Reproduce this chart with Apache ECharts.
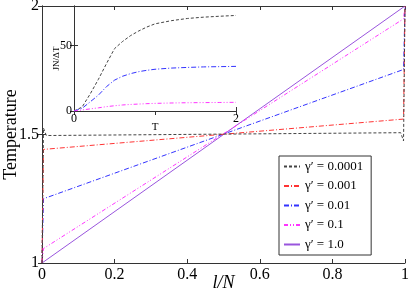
<!DOCTYPE html>
<html><head><meta charset="utf-8">
<script src="https://cdn.jsdelivr.net/npm/echarts@6/dist/echarts.min.js"></script>
<style>html,body{margin:0;padding:0;background:#fff}#c{width:409px;height:294px}</style>
</head><body><div id="c"></div>
<script>
// Main plot: temperature profiles along the chain
const seriesNames = ['γ′ = 0.0001', 'γ′ = 0.001', 'γ′ = 0.01', 'γ′ = 0.1', 'γ′ = 1.0'];
const xG0001 = [0, 0.004, 0.012, 0.988, 0.996, 1];
const yG0001 = [1, 1.525, 1.496, 1.507, 1.475, 2];
const xG001 = [0, 0.004, 0.996, 1];
const yG001 = [1, 1.442, 1.56, 2];
const xG01 = [0, 0.004, 0.996, 1];
const yG01 = [1, 1.25, 1.753, 2];
const xG1 = [0, 0.004, 0.996, 1];
const yG1 = [1, 1.056, 1.95, 2];
const xG10 = [0, 1];
const yG10 = [1, 2];
// Inset: JN/ΔT vs T
const insetT = [0, 0.1, 0.2, 0.3, 0.4, 0.5, 0.6, 0.7, 0.8, 0.9, 1.0, 1.2, 1.4, 1.6, 1.8, 2.0];
const insetG0001 = [0, 3, 13, 24, 36, 47.5, 53, 57.5, 61, 64, 66.4, 68.8, 70.5, 71.5, 72.2, 72.8];
const insetG01 = [0, 2, 7, 12, 18.5, 23.5, 26.5, 28.5, 30, 31, 31.8, 32.7, 33.2, 33.6, 33.8, 34];
const insetG1 = [0, 0.8, 1.6, 2.4, 3.3, 4, 4.6, 5, 5.3, 5.6, 5.8, 6.1, 6.3, 6.4, 6.5, 6.6];
const mainXTicks = [0, 0.2, 0.4, 0.6, 0.8, 1];
const mainYTicks = [1, 1.5, 2];

const zip = (xs, ys) => xs.map((x, i) => [x, ys[i]]);
const F = 'Liberation Serif';
const axisCol = '#333';
const styles = [
  {color: '#444', type: [3, 2]},
  {color: '#ff3333', type: [5, 2, 1, 2]},
  {color: '#3333ff', type: [5, 2, 1, 2]},
  {color: '#ff33ff', type: [4, 2, 1, 2, 1, 2]},
  {color: '#9955dd', type: 'solid'}
];
const mainData = [zip(xG0001, yG0001), zip(xG001, yG001), zip(xG01, yG01), zip(xG1, yG1), zip(xG10, yG10)];

const chart = echarts.init(document.getElementById('c'), null, {renderer: 'canvas'});
const baseAxis = {
  axisLine: {show: true, lineStyle: {color: axisCol, width: 1}},
  axisTick: {show: true, inside: true, length: 4, lineStyle: {color: axisCol}},
  splitLine: {show: false},
  nameMoveOverlap: false
};
const series = [];
mainData.forEach((d, i) => {
  series.push({
    name: seriesNames[i], type: 'line', xAxisIndex: 0, yAxisIndex: 0, data: d,
    symbol: 'none', animation: false,
    lineStyle: {color: styles[i].color, type: styles[i].type, width: 1},
    itemStyle: {color: styles[i].color}, z: 5 - i
  });
});
[[insetG0001, 0], [insetG01, 2], [insetG1, 3]].forEach(([arr, si], k) => {
  series.push({
    name: 'inset' + k, type: 'line', xAxisIndex: 2, yAxisIndex: 2, data: zip(insetT, arr),
    symbol: 'none', animation: false,
    lineStyle: {color: styles[si].color, type: styles[si].type, width: 1}
  });
});

chart.setOption({
  animation: false,
  backgroundColor: '#fff',
  grid: [
    {left: 42, right: 4, top: 6, bottom: 31, containLabel: false, outerBoundsMode: 'none'},
    {left: 74, right: 173, top: 6, bottom: 183, containLabel: false, outerBoundsMode: 'none'}
  ],
  xAxis: [
    Object.assign({}, baseAxis, {type: 'value', gridIndex: 0, min: 0, max: 1, interval: 0.2, position: 'bottom',
      name: 'l/N', nameLocation: 'middle', nameGap: 11,
      nameTextStyle: {fontFamily: F, fontSize: 18, fontStyle: 'italic', color: '#000'},
      axisLabel: {fontFamily: F, fontSize: 16, color: '#000', margin: 4, formatter: v => String(+v.toFixed(1))}}),
    Object.assign({}, baseAxis, {type: 'value', gridIndex: 0, min: 0, max: 1, interval: 0.2, position: 'top',
      axisLabel: {show: false}}),
    Object.assign({}, baseAxis, {type: 'value', gridIndex: 1, min: 0, max: 2, interval: 2, position: 'bottom',
      name: 'T', nameLocation: 'middle', nameGap: 11,
      nameTextStyle: {fontFamily: F, fontSize: 11, color: '#000'},
      axisLabel: {fontFamily: F, fontSize: 12, color: '#000', margin: 2}}),
    Object.assign({}, baseAxis, {type: 'value', gridIndex: 1, min: 0, max: 2, interval: 1, position: 'top',
      axisLabel: {show: false}})
  ],
  yAxis: [
    Object.assign({}, baseAxis, {type: 'value', gridIndex: 0, min: 1, max: 2, interval: 0.5, position: 'left',
      name: 'Temperature', nameLocation: 'middle', nameGap: 22,
      nameTextStyle: {fontFamily: F, fontSize: 18, color: '#000'},
      axisLabel: {fontFamily: F, fontSize: 16, color: '#000', margin: 3}}),
    Object.assign({}, baseAxis, {type: 'value', gridIndex: 0, min: 1, max: 2, interval: 0.5, position: 'right',
      axisLabel: {show: false}}),
    Object.assign({}, baseAxis, {type: 'value', gridIndex: 1, min: 0, max: 80, interval: 50, position: 'left',
      name: 'JN/ΔT', nameLocation: 'middle', nameGap: 13,
      nameTextStyle: {fontFamily: F, fontSize: 9, color: '#000'},
      axisLabel: {fontFamily: F, fontSize: 12, color: '#000', margin: 2, formatter: v => (v % 50 === 0 ? String(v) : '')}}),
    Object.assign({}, baseAxis, {type: 'value', gridIndex: 1, min: 0, max: 80, interval: 50, position: 'right',
      axisLabel: {show: false}})
  ],
  legend: {
    data: seriesNames, orient: 'vertical', left: 279, top: 156,
    backgroundColor: '#fff', borderColor: '#333', borderWidth: 1, borderRadius: 0,
    padding: [4, 8, 4, 4], itemWidth: 16, itemHeight: 14, itemGap: 6.5,
    textStyle: {fontFamily: F, fontSize: 13, color: '#000'},
    itemStyle: {color: 'rgba(0,0,0,0)', borderColor: 'rgba(0,0,0,0)', borderWidth: 0},
    selectedMode: false
  },
  series: series
});
</script></body></html>
